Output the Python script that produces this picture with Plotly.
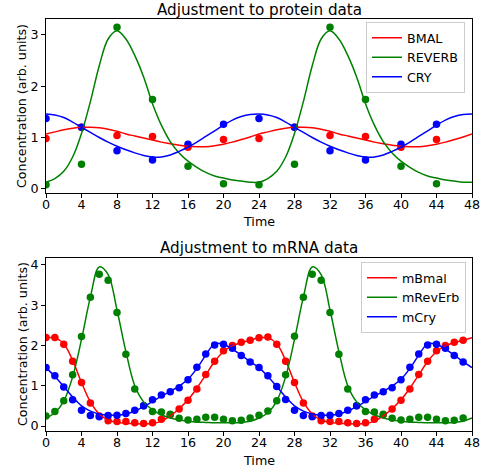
import plotly.graph_objects as go

# ---------------- data ----------------
PROT_T = [0, 4, 8, 12, 16, 20, 24, 28, 32, 36, 40, 44]
BMAL_PTS = [0.98, 1.20, 1.04, 1.02, 0.81, 0.96, 0.98, 1.20, 1.04, 1.02, 0.81, 0.96]
REVERB_PTS = [0.08, 0.48, 3.15, 1.74, 0.44, 0.10, 0.08, 0.48, 3.15, 1.74, 0.44, 0.10]
CRY_PTS = [1.37, 1.20, 0.74, 0.56, 0.87, 1.26, 1.37, 1.20, 0.74, 0.56, 0.87, 1.26]

FIT_T = list(range(0, 49))
BMAL_FIT = [1.07, 1.11, 1.15, 1.18, 1.20, 1.20, 1.19, 1.16, 1.12, 1.07, 1.03, 0.99, 0.95,
            0.91, 0.88, 0.85, 0.83, 0.82, 0.82, 0.84, 0.87, 0.91, 0.96, 1.01, 1.07,
            1.11, 1.15, 1.18, 1.20, 1.20, 1.19, 1.16, 1.12, 1.07, 1.03, 0.99, 0.95,
            0.91, 0.88, 0.85, 0.83, 0.82, 0.82, 0.84, 0.87, 0.91, 0.96, 1.01, 1.07]
REVERB_FIT = [0.13, 0.20, 0.34, 0.62, 1.08, 1.70, 2.40, 2.92, 3.08, 2.92, 2.60, 2.18, 1.66,
              1.24, 0.92, 0.70, 0.54, 0.42, 0.32, 0.25, 0.21, 0.17, 0.15, 0.13, 0.13,
              0.20, 0.34, 0.62, 1.08, 1.70, 2.40, 2.92, 3.08, 2.92, 2.60, 2.18, 1.66,
              1.24, 0.92, 0.70, 0.54, 0.42, 0.32, 0.25, 0.21, 0.17, 0.15, 0.13, 0.13]
CRY_FIT = [1.46, 1.44, 1.39, 1.30, 1.20, 1.10, 1.00, 0.91, 0.83, 0.76, 0.70, 0.65, 0.62,
           0.62, 0.66, 0.73, 0.81, 0.91, 1.02, 1.13, 1.24, 1.34, 1.41, 1.45, 1.46,
           1.44, 1.39, 1.30, 1.20, 1.10, 1.00, 0.91, 0.83, 0.76, 0.70, 0.65, 0.62,
           0.62, 0.66, 0.73, 0.81, 0.91, 1.02, 1.13, 1.24, 1.34, 1.41, 1.45, 1.46]

MRNA_T = list(range(0, 48))
MBMAL_PTS = [2.20, 2.20, 2.03, 1.61, 1.08, 0.57, 0.25, 0.13, 0.11, 0.11, 0.08, 0.06,
             0.08, 0.17, 0.28, 0.42, 0.64, 0.92, 1.28, 1.61, 1.87, 2.00, 2.08, 2.13,
             2.19, 2.21, 2.03, 1.61, 1.08, 0.57, 0.25, 0.13, 0.11, 0.11, 0.08, 0.06,
             0.08, 0.17, 0.28, 0.42, 0.64, 0.92, 1.28, 1.61, 1.87, 2.00, 2.08, 2.13]
MREVERB_PTS = [0.25, 0.36, 0.63, 1.27, 2.22, 3.20, 3.77, 3.62, 2.82, 1.78, 0.92, 0.50,
               0.36, 0.35, 0.29, 0.19, 0.15, 0.17, 0.22, 0.22, 0.17, 0.13, 0.14, 0.20,
               0.27, 0.37, 0.63, 1.27, 2.23, 3.20, 3.77, 3.62, 2.82, 1.78, 0.92, 0.50,
               0.36, 0.35, 0.29, 0.19, 0.15, 0.17, 0.22, 0.22, 0.17, 0.13, 0.14, 0.20]
MCRY_PTS = [1.45, 1.25, 0.97, 0.65, 0.39, 0.26, 0.23, 0.26, 0.27, 0.31, 0.39, 0.50,
            0.65, 0.77, 0.85, 0.95, 1.15, 1.46, 1.79, 2.01, 2.03, 1.93, 1.75, 1.59,
            1.45, 1.25, 0.98, 0.66, 0.39, 0.26, 0.23, 0.26, 0.27, 0.31, 0.39, 0.50,
            0.65, 0.77, 0.85, 0.95, 1.15, 1.46, 1.79, 2.01, 2.03, 1.93, 1.75, 1.59]

MBMAL_FIT = [2.19, 2.19, 2.04, 1.63, 1.08, 0.60, 0.30, 0.15, 0.09, 0.07, 0.06, 0.05, 0.06,
             0.12, 0.25, 0.43, 0.65, 0.94, 1.27, 1.60, 1.85, 1.99, 2.07, 2.13, 2.19,
             2.19, 2.04, 1.63, 1.08, 0.60, 0.30, 0.15, 0.09, 0.07, 0.06, 0.05, 0.06,
             0.12, 0.25, 0.43, 0.65, 0.94, 1.27, 1.60, 1.85, 1.99, 2.07, 2.13, 2.19]
MREVERB_FIT = [0.20, 0.33, 0.62, 1.22, 2.15, 3.20, 3.95, 3.76, 2.88, 1.85, 1.00, 0.60, 0.40,
               0.28, 0.20, 0.15, 0.12, 0.10, 0.09, 0.08, 0.08, 0.08, 0.09, 0.12, 0.20,
               0.33, 0.62, 1.22, 2.15, 3.20, 3.95, 3.76, 2.88, 1.85, 1.00, 0.60, 0.40,
               0.28, 0.20, 0.15, 0.12, 0.10, 0.09, 0.08, 0.08, 0.08, 0.09, 0.12, 0.20]
MCRY_FIT = [1.45, 1.23, 0.98, 0.72, 0.50, 0.37, 0.30, 0.27, 0.27, 0.30, 0.37, 0.48, 0.61,
            0.74, 0.86, 0.99, 1.16, 1.43, 1.76, 2.04, 2.03, 1.91, 1.76, 1.60, 1.45,
            1.23, 0.98, 0.72, 0.50, 0.37, 0.30, 0.27, 0.27, 0.30, 0.37, 0.48, 0.61,
            0.74, 0.86, 0.99, 1.16, 1.43, 1.76, 2.04, 2.03, 1.91, 1.76, 1.60, 1.45]

X_TICKS = list(range(0, 49, 4))
Y1_TICKS = [0, 1, 2, 3]
Y2_TICKS = [0, 1, 2, 3, 4]

RED, GREEN, BLUE = "#ff0000", "#008000", "#0000ff"
FONT = "DejaVu Sans"
FS = 12.7
W, H = 487, 472

fig = go.Figure()

def add(xs, ys, color, name, xa, ya, legend, line=True):
    if line:
        fig.add_trace(go.Scatter(x=xs, y=ys, mode="lines", name=name,
                                 line=dict(color=color, width=1.5, shape="spline"),
                                 xaxis=xa, yaxis=ya, legend=legend, showlegend=True))
    else:
        fig.add_trace(go.Scatter(x=xs, y=ys, mode="markers", name=name,
                                 marker=dict(color=color, size=7.5),
                                 xaxis=xa, yaxis=ya, showlegend=False))

# top panel
add(PROT_T, BMAL_PTS, RED, "BMAL", "x", "y", "legend", line=False)
add(PROT_T, REVERB_PTS, GREEN, "REVERB", "x", "y", "legend", line=False)
add(PROT_T, CRY_PTS, BLUE, "CRY", "x", "y", "legend", line=False)
add(FIT_T, BMAL_FIT, RED, "BMAL", "x", "y", "legend")
add(FIT_T, REVERB_FIT, GREEN, "REVERB", "x", "y", "legend")
add(FIT_T, CRY_FIT, BLUE, "CRY", "x", "y", "legend")

# bottom panel
add(MRNA_T, MBMAL_PTS, RED, "mBmal", "x2", "y2", "legend2", line=False)
add(MRNA_T, MREVERB_PTS, GREEN, "mRevErb", "x2", "y2", "legend2", line=False)
add(MRNA_T, MCRY_PTS, BLUE, "mCry", "x2", "y2", "legend2", line=False)
add(FIT_T, MBMAL_FIT, RED, "mBmal", "x2", "y2", "legend2")
add(FIT_T, MREVERB_FIT, GREEN, "mRevErb", "x2", "y2", "legend2")
add(FIT_T, MCRY_FIT, BLUE, "mCry", "x2", "y2", "legend2")

xdom = [46 / W, 472 / W]
axis_common = dict(showline=True, linecolor="black", linewidth=1, mirror=True,
                   ticks="outside", ticklen=4, tickwidth=1, tickcolor="black",
                   showgrid=False, zeroline=False, automargin=False,
                   tickfont=dict(family=FONT, size=FS, color="black"))

fig.update_layout(
    width=W, height=H,
    margin=dict(l=0, r=0, t=0, b=0),
    paper_bgcolor="white", plot_bgcolor="white",
    font=dict(family=FONT, size=FS, color="black"),
    xaxis=dict(domain=xdom, range=[0, 48], tickvals=X_TICKS, anchor="y",
               ticklabelstandoff=-4, **axis_common),
    yaxis=dict(domain=[(H - 192.5) / H, (H - 19) / H], range=[-0.072, 3.31],
               tickvals=Y1_TICKS, anchor="x", **axis_common),
    xaxis2=dict(domain=xdom, range=[0, 48], tickvals=X_TICKS, anchor="y2",
                ticklabelstandoff=-4, **axis_common),
    yaxis2=dict(domain=[(H - 431) / H, (H - 257.7) / H], range=[-0.124, 4.18],
                tickvals=Y2_TICKS, anchor="x2", **axis_common),
    legend=dict(x=465 / W, y=(H - 22) / H, xanchor="right", yanchor="top",
                bgcolor="rgba(255,255,255,0.8)", bordercolor="#cccccc", borderwidth=1,
                font=dict(family=FONT, size=FS), itemwidth=30, tracegroupgap=0),
    legend2=dict(x=466 / W, y=(H - 262) / H, xanchor="right", yanchor="top",
                 bgcolor="rgba(255,255,255,0.8)", bordercolor="#cccccc", borderwidth=1,
                 font=dict(family=FONT, size=FS), itemwidth=30, tracegroupgap=0),
)

ann = []
def text(x, y, s, size=FS, angle=0):
    ann.append(dict(x=x / W, y=(H - y) / H, xref="paper", yref="paper", text=s,
                    showarrow=False, xanchor="center", yanchor="middle", textangle=angle,
                    font=dict(family=FONT, size=size, color="black")))

text(259, 10, "Adjustment to protein data", size=15.2)
text(259, 247.5, "Adjustment to mRNA data", size=15.2)
text(259, 221, "Time")
text(259, 460, "Time")
text(22, 106, "Concentration (arb. units)", angle=-90)
text(22, 344, "Concentration (arb. units)", angle=-90)
fig.update_layout(annotations=ann)

fig.write_html("out.html")
